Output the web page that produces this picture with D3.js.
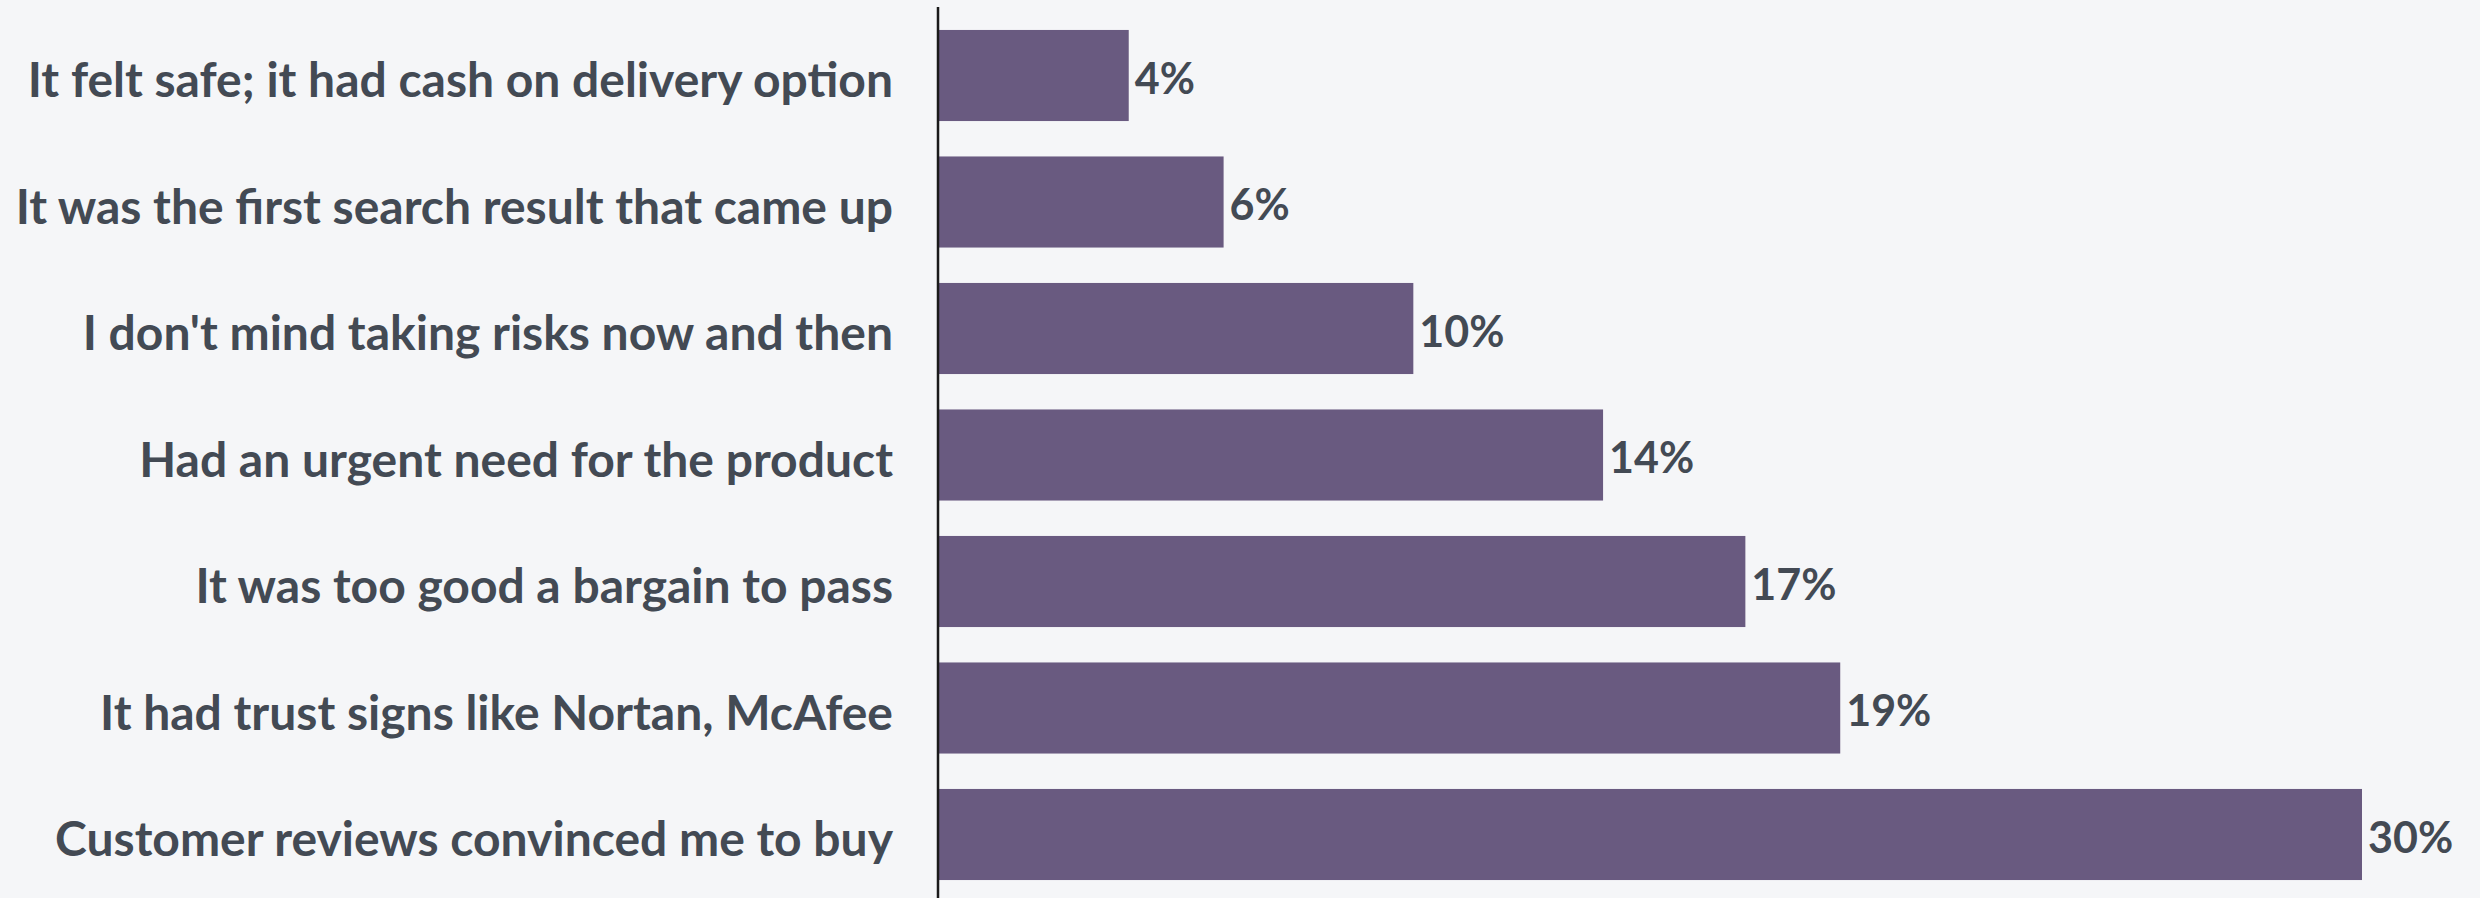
<!DOCTYPE html>
<html>
<head>
<meta charset="utf-8">
<script src="https://cdn.jsdelivr.net/npm/d3@7"></script>
<style>
  html, body { margin: 0; padding: 0; background: #f5f6f8; }
  svg { display: block; }
  text { font-family: Lato, "Open Sans", sans-serif; font-weight: 700; fill: #434a54; }
</style>
</head>
<body>
<svg id="root"></svg>
<script>
(function () {
  // reasons, top to bottom
  let reasons = [
    "It felt safe; it had cash on delivery option",
    "It was the first search result that came up",
    "I don't mind taking risks now and then",
    "Had an urgent need for the product",
    "It was too good a bargain to pass",
    "It had trust signs like Nortan, McAfee",
    "Customer reviews convinced me to buy"
  ];
  let shares = [4, 6, 10, 14, 17, 19, 30];

  let width = 2480, height = 898;
  let x0 = 939;

  let svg = d3.select("#root")
    .attr("width", width)
    .attr("height", height);

  let data = reasons.map((r, i) => ({ reason: r, value: shares[i] }));

  let xScale = d3.scaleLinear()
    .domain([0, 30])
    .range([x0, 2362]);

  let yScale = d3.scaleBand()
    .domain(reasons)
    .range([12, 898])
    .paddingInner(0.28)
    .paddingOuter(0.142);

  svg.selectAll(".bar")
    .data(data)
    .enter().append("rect")
    .attr("class", "bar")
    .attr("x", xScale(0))
    .attr("y", d => yScale(d.reason))
    .attr("width", d => xScale(d.value) - xScale(0))
    .attr("height", yScale.bandwidth())
    .attr("fill", "#695a80");

  svg.selectAll(".val")
    .data(data)
    .enter().append("text")
    .attr("class", "val")
    .attr("x", d => xScale(d.value) + 6)
    .attr("y", d => yScale(d.reason) + yScale.bandwidth() / 2)
    .attr("dy", "0.43em")
    .style("font-size", "43px")
    .text(d => d.value + "%");

  let axis = svg.append("g")
    .attr("transform", `translate(${x0 - 1},0)`)
    .call(d3.axisLeft(yScale).tickSize(0).tickPadding(45));

  axis.select(".domain").remove();
  axis.selectAll("text")
    .attr("fill", "#434a54")
    .attr("dy", "0.45em")
    .style("font-family", "Lato, 'Open Sans', sans-serif")
    .style("font-weight", 700)
    .style("font-size", "48px");

  svg.append("line")
    .attr("x1", x0 - 1).attr("x2", x0 - 1)
    .attr("y1", 7).attr("y2", height)
    .attr("stroke", "#1a1a1a")
    .attr("stroke-width", 2.5);
})();
</script>
</body>
</html>
